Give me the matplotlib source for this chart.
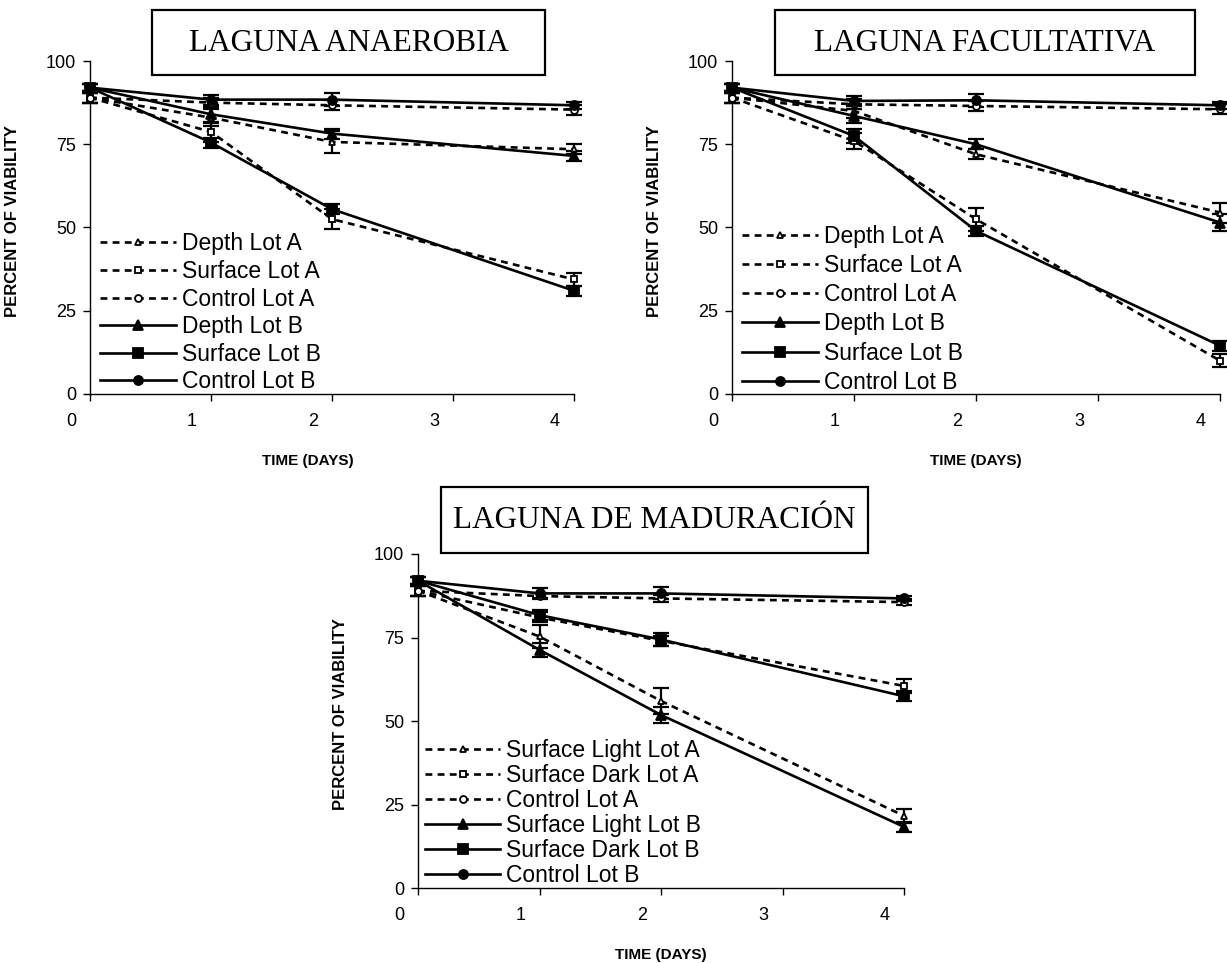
import matplotlib
matplotlib.use('Agg')
import matplotlib.pyplot as plt
import matplotlib.transforms as mtransforms
from matplotlib.patches import Rectangle

# time axis (days)
days = [0, 1, 2, 4]
tick_days = [0, 1, 2, 3, 4]

# LAGUNA ANAEROBIA
ana_labels = ['Depth Lot A', 'Surface Lot A', 'Control Lot A',
              'Depth Lot B', 'Surface Lot B', 'Control Lot B']
ana_depth_a = [89, 83, 75.7, 73.5]
ana_surface_a = [89, 78.7, 52.5, 34.4]
ana_control_a = [89, 87.5, 86.7, 85.4]
ana_depth_b = [92, 84, 78.2, 71.5]
ana_surface_b = [92, 75.5, 55.5, 31]
ana_control_b = [92, 88.4, 88.4, 86.7]
ana_depth_a_err = [1.5, 2.5, 3.3, 1.5]
ana_surface_a_err = [1.5, 3, 3, 2]
ana_control_a_err = [1.5, 1.5, 1.5, 1.5]
ana_depth_b_err = [1, 2.5, 1.5, 1.5]
ana_surface_b_err = [1, 1.5, 1.5, 1.5]
ana_control_b_err = [1, 1.5, 2, 1]

# LAGUNA FACULTATIVA
fac_labels = ana_labels
fac_depth_a = [89, 85, 72, 54.5]
fac_surface_a = [89, 76, 52.5, 10]
fac_control_a = [89, 87, 86.5, 85.5]
fac_depth_b = [92, 83.5, 75, 51.5]
fac_surface_b = [92, 77.5, 49, 14.5]
fac_control_b = [92, 88, 88.2, 86.7]
fac_depth_a_err = [1.5, 2, 1.5, 3]
fac_surface_a_err = [1.5, 2.5, 3.5, 2]
fac_control_a_err = [1.5, 1.5, 1.5, 1.5]
fac_depth_b_err = [1, 2, 1.5, 2.5]
fac_surface_b_err = [1, 2, 1.5, 1.5]
fac_control_b_err = [1, 1.5, 2, 1]

# LAGUNA DE MADURACION
mad_labels = ['Surface Light Lot A', 'Surface Dark Lot A', 'Control Lot A',
              'Surface Light Lot B', 'Surface Dark Lot B', 'Control Lot B']
mad_light_a = [89, 75.3, 56, 21.6]
mad_dark_a = [89, 81, 74, 60.5]
mad_control_a = [89, 87.4, 86.7, 85.6]
mad_light_b = [92, 71.3, 51.8, 18.3]
mad_dark_b = [92, 81.7, 74.4, 57.4]
mad_control_b = [92, 88.2, 88.2, 86.7]
mad_light_a_err = [1.5, 3.5, 4, 2]
mad_dark_a_err = [1.5, 1.5, 1.5, 2]
mad_control_a_err = [1.5, 1, 1, 0.8]
mad_light_b_err = [1, 2, 2.5, 1.5]
mad_dark_b_err = [1, 1.5, 2, 1.5]
mad_control_b_err = [1, 1.5, 1.8, 0.8]

W, H = 1227, 963
fig = plt.figure(figsize=(W / 100, H / 100), dpi=100)
plt.rcParams['font.family'] = ['Liberation Sans', 'DejaVu Sans']

markers = ['^', 's', 'o', '^', 's', 'o']


def add_panel(px_left, px_top, px_w, px_h, title, box, labels, values, errs,
              leg_anchor, leg_spacing, xlabel_x):
    ax = fig.add_axes([px_left / W, 1 - (px_top + px_h) / H, px_w / W, px_h / H])
    for i in range(6):
        lot_a = i < 3
        ls = (0, (2.6, 2.0)) if lot_a else '-'
        ax.errorbar(days, values[i], yerr=errs[i], fmt='none', ecolor='black',
                    elinewidth=1.6, capsize=5.5, capthick=1.6, clip_on=False, zorder=3)
        ax.plot(days, values[i], linestyle=ls, color='black', lw=1.9,
                marker=markers[i], markersize=5 if lot_a else 6.5,
                markerfacecolor='white' if lot_a else 'black',
                markeredgecolor='black', markeredgewidth=1.3,
                label=labels[i], clip_on=False, zorder=4)
    ax.set_xlim(0, 4)
    ax.set_ylim(0, 100)
    ax.set_yticks([0, 25, 50, 75, 100])
    ax.set_xticks(tick_days)
    for s in ['top', 'right']:
        ax.spines[s].set_visible(False)
    for s in ['left', 'bottom']:
        ax.spines[s].set_linewidth(1.0)
    ax.tick_params(axis='y', direction='out', length=5, width=1, labelsize=13, pad=5)
    ax.tick_params(axis='x', direction='out', length=5, width=1, labelsize=13, pad=9)
    shift = mtransforms.ScaledTranslation(-0.19, 0, fig.dpi_scale_trans)
    for lab in ax.get_xticklabels():
        lab.set_transform(lab.get_transform() + shift)
    ax.set_xlabel('TIME (DAYS)', fontsize=11, fontweight='bold')
    ax.xaxis.set_label_coords(xlabel_x, -60 / px_h)
    ax.set_ylabel('PERCENT OF VIABILITY', fontsize=12, fontweight='bold')
    ax.yaxis.set_label_coords(-70 / px_w, 0.52)
    ax.legend(loc='upper left', bbox_to_anchor=leg_anchor, frameon=False,
              fontsize=16.5, handlelength=3.3, handletextpad=0.25,
              labelspacing=leg_spacing, borderpad=0, borderaxespad=0, numpoints=1)
    # boxed title
    bx0, by0, bx1, by1 = box
    fig.patches.append(Rectangle((bx0 / W, 1 - by1 / H), (bx1 - bx0) / W, (by1 - by0) / H,
                                 transform=fig.transFigure, fill=False,
                                 edgecolor='black', linewidth=1.6))
    fig.text((bx0 + bx1) / 2 / W, 1 - ((by0 + by1) / 2 + 1) / H, title,
             ha='center', va='center', fontsize=22.5, family='Liberation Serif')
    return ax


add_panel(90, 61, 484, 333, 'LAGUNA ANAEROBIA', (152, 10, 545, 75), ana_labels,
          [ana_depth_a, ana_surface_a, ana_control_a, ana_depth_b, ana_surface_b, ana_control_b],
          [ana_depth_a_err, ana_surface_a_err, ana_control_a_err,
           ana_depth_b_err, ana_surface_b_err, ana_control_b_err],
          (0.021, 0.485), 0.2, 0.45)

add_panel(732, 61, 488, 333, 'LAGUNA FACULTATIVA', (775, 10, 1195, 75), fac_labels,
          [fac_depth_a, fac_surface_a, fac_control_a, fac_depth_b, fac_surface_b, fac_control_b],
          [fac_depth_a_err, fac_surface_a_err, fac_control_a_err,
           fac_depth_b_err, fac_surface_b_err, fac_control_b_err],
          (0.021, 0.508), 0.27, 0.5)

add_panel(418, 554, 486, 334, 'LAGUNA DE MADURACIÓN', (441, 487, 868, 553), mad_labels,
          [mad_light_a, mad_dark_a, mad_control_a, mad_light_b, mad_dark_b, mad_control_b],
          [mad_light_a_err, mad_dark_a_err, mad_control_a_err,
           mad_light_b_err, mad_dark_b_err, mad_control_b_err],
          (0.014, 0.447), 0.09, 0.5)

fig.savefig('out.png', dpi=100)
